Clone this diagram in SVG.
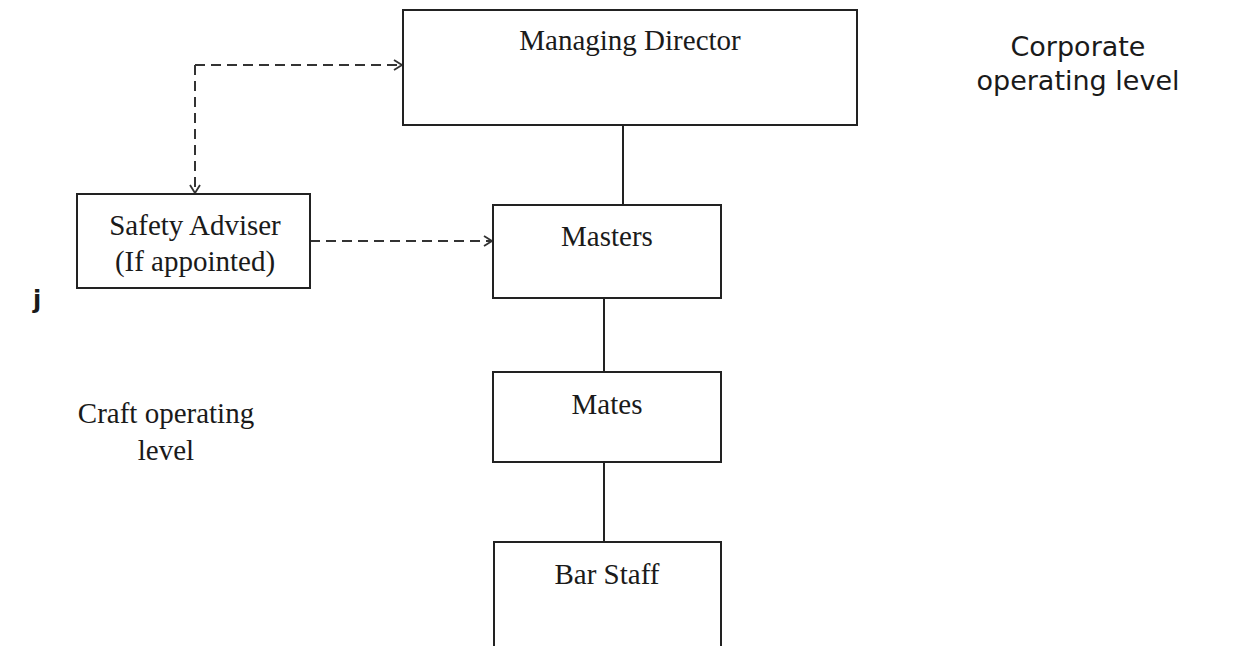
<svg xmlns="http://www.w3.org/2000/svg" width="1246" height="646" viewBox="0 0 1246 646">
<style>
.box{fill:#fff;stroke:#222;stroke-width:2}
.t{font-family:"Liberation Serif","Times New Roman",serif;font-size:29px;fill:#1a1a1a;text-anchor:middle}
.s{font-family:"DejaVu Sans",sans-serif;font-size:27px;fill:#1a1a1a;text-anchor:middle}
.solid{stroke:#222;stroke-width:2;fill:none}
.dash{stroke:#333;stroke-width:2;fill:none;stroke-dasharray:10 6}
</style>
<defs>
<marker id="ah" markerWidth="12" markerHeight="12" refX="10" refY="6" orient="auto" markerUnits="userSpaceOnUse">
<path d="M2,1 L10,6 L2,11" fill="none" stroke="#333" stroke-width="1.8"/>
</marker>
</defs>
<rect width="1246" height="646" fill="#fff"/>
<g id="connectors">
<line class="solid" x1="623" y1="125" x2="623" y2="205"/>
<line class="solid" x1="604" y1="298" x2="604" y2="372"/>
<line class="solid" x1="604" y1="462" x2="604" y2="542"/>
<path class="dash" d="M195,65 L402,65" marker-end="url(#ah)"/>
<path class="dash" d="M195,65 L195,193" marker-end="url(#ah)"/>
<line class="dash" x1="310" y1="241" x2="492" y2="241" marker-end="url(#ah)"/>
</g>
<g id="managing-director">
<rect class="box" x="403" y="10" width="454" height="115"/>
<text class="t" x="630" y="50">Managing Director</text>
</g>
<g id="safety-adviser">
<rect class="box" x="77" y="194" width="233" height="94"/>
<text class="t" x="195" y="235">Safety Adviser</text>
<text class="t" x="195" y="271">(If appointed)</text>
</g>
<g id="masters">
<rect class="box" x="493" y="205" width="228" height="93"/>
<text class="t" x="607" y="246">Masters</text>
</g>
<g id="mates">
<rect class="box" x="493" y="372" width="228" height="90"/>
<text class="t" x="607" y="414">Mates</text>
</g>
<g id="bar-staff">
<path class="solid" d="M494,648 L494,542 L721,542 L721,648"/>
<text class="t" x="607" y="584">Bar Staff</text>
</g>
<g id="labels">
<text class="s" x="1078" y="56">Corporate</text>
<text class="s" x="1078" y="90">operating level</text>
<text x="37" y="308" font-family="DejaVu Sans,sans-serif" font-weight="bold" font-size="24" fill="#1a1a1a" text-anchor="middle">j</text>
<text class="t" x="166" y="423">Craft operating</text>
<text class="t" x="166" y="460">level</text>
</g>
</svg>
